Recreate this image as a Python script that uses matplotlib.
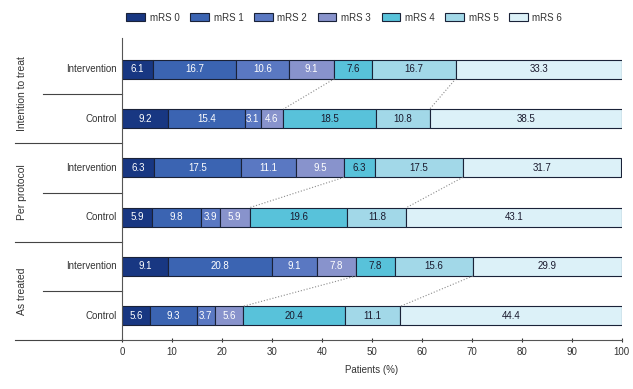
import matplotlib
matplotlib.use("Agg")
import matplotlib.pyplot as plt
import matplotlib.transforms as mtransforms
import numpy as np

plt.rcParams['font.family'] = ['Liberation Sans', 'DejaVu Sans']

# mRS distribution (% of patients) per analysis population and arm
categories = ['mRS 0', 'mRS 1', 'mRS 2', 'mRS 3', 'mRS 4', 'mRS 5', 'mRS 6']
row_labels = ['Intervention', 'Control', 'Intervention', 'Control', 'Intervention', 'Control']
group_labels = ['Intention to treat', 'Per protocol', 'As treated']

itt_intervention = [6.1, 16.7, 10.6, 9.1, 7.6, 16.7, 33.3]
itt_control = [9.2, 15.4, 3.1, 4.6, 18.5, 10.8, 38.5]
pp_intervention = [6.3, 17.5, 11.1, 9.5, 6.3, 17.5, 31.7]
pp_control = [5.9, 9.8, 3.9, 5.9, 19.6, 11.8, 43.1]
at_intervention = [9.1, 20.8, 9.1, 7.8, 7.8, 15.6, 29.9]
at_control = [5.6, 9.3, 3.7, 5.6, 20.4, 11.1, 44.4]

rows = [itt_intervention, itt_control, pp_intervention, pp_control,
        at_intervention, at_control]

colors = ['#183782', '#3b64b2', '#5a78c2', '#8893cc', '#58c2da', '#a2d8e8', '#dcf1f8']
text_colors = ['white', 'white', 'white', 'white', '#1a1a2e', '#1a1a2e', '#1a1a2e']
edge = '#1a2238'
fs = 7

fig = plt.figure(figsize=(6.33, 3.89), dpi=100)
ax = fig.add_axes([0.193, 0.126, 0.789, 0.776])

bar_h = 0.385
data = np.array(rows)
for i, vals in enumerate(data):
    left = 0.0
    for j, v in enumerate(vals):
        ax.barh(i, v, left=left, height=bar_h, color=colors[j],
                edgecolor=edge, linewidth=0.8, label=categories[j] if i == 0 else None)
        ax.text(left + v / 2, i, '{:.1f}'.format(v), ha='center', va='center',
                fontsize=fs, color=text_colors[j])
        left += v

# dotted connectors between arms at the mRS 0-3 and 0-5 cut points
cum = np.cumsum(data, axis=1)
for g in range(3):
    top, bot = 2 * g, 2 * g + 1
    for k in (3, 5):
        ax.plot([cum[top, k], cum[bot, k]], [top + bar_h / 2, bot - bar_h / 2],
                ls=':', color='#8c8c8c', lw=0.8)

ax.set_xlim(0, 100)
ax.set_ylim(5.49, -0.63)
ax.set_xticks(np.arange(0, 101, 10))
ax.tick_params(axis='x', labelsize=fs, length=3, direction='inout', colors='#333333')
ax.set_yticks([])
ax.set_xlabel('Patients (%)', fontsize=fs, color='#333333', labelpad=6)
for side in ('top', 'right'):
    ax.spines[side].set_visible(False)
ax.spines['left'].set_color('#555555')
ax.spines['bottom'].set_color('#555555')
ax.spines['left'].set_linewidth(0.8)
ax.spines['bottom'].set_linewidth(0.8)

trans = mtransforms.blended_transform_factory(ax.transAxes, ax.transData)
for i, lab in enumerate(row_labels):
    ax.text(-0.01, i, lab, transform=trans, ha='right', va='center',
            fontsize=fs, color='#333333')

# separators in the label column
for y in (0.5, 2.5, 4.5):
    ax.plot([-0.158, 0], [y, y], transform=trans, color='#444444', lw=0.8, clip_on=False)
for y in (1.5, 3.5, 5.49):
    ax.plot([-0.214, 0], [y, y], transform=trans, color='#444444', lw=0.8, clip_on=False)

for g, lab in enumerate(group_labels):
    ax.text(-0.2, 2 * g + 0.5, lab, transform=trans, rotation=90,
            ha='center', va='center', fontsize=7.5, color='#333333')

handles, labels = ax.get_legend_handles_labels()
fig.legend(handles, labels, loc='upper left', bbox_to_anchor=(0.186, 0.99), ncol=7,
           frameon=False, fontsize=fs, handlelength=1.9, handleheight=0.9,
           columnspacing=1.1, handletextpad=0.5, labelcolor='#333333')

fig.savefig('out.png', dpi=100, facecolor='white')
